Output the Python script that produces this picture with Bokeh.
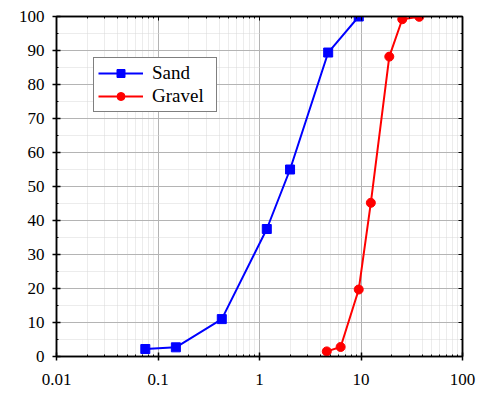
from bokeh.plotting import figure
from bokeh.models import (LogAxis, LinearAxis, LogTicker, SingleIntervalTicker,
                          Legend, LegendItem, Range1d)
from bokeh.embed import file_html
from bokeh.resources import INLINE

# Data
sand_size = [0.075, 0.15, 0.425, 1.18, 2.0, 4.75, 9.5]
sand_pass = [2.2, 2.7, 11.0, 37.5, 55.0, 89.4, 100.0]
gravel_size = [4.6, 6.3, 9.5, 12.5, 19.0, 25.5, 37.5]
gravel_pass = [1.5, 2.8, 19.7, 45.2, 88.2, 99.2, 99.9]

FONT = "'Liberation Serif', serif"

p = figure(x_axis_type="log", x_range=Range1d(0.01, 100), y_range=Range1d(0, 100),
           frame_width=406, frame_height=340,
           min_border_left=56, min_border_right=14, min_border_top=16, min_border_bottom=28,
           output_backend="svg", toolbar_location=None,
           background_fill_color="white", border_fill_color="white")

p.outline_line_color = "black"
p.outline_line_width = 1.5

xt = LogTicker(num_minor_ticks=10)
yt = SingleIntervalTicker(interval=10, num_minor_ticks=2)

xa = p.xaxis[0]
xa.ticker = xt
ya = p.yaxis[0]
ya.ticker = yt

for ax in (xa, ya):
    ax.axis_line_color = "black"
    ax.axis_line_width = 1.5
    ax.major_tick_line_color = "black"
    ax.major_tick_line_width = 1.5
    ax.minor_tick_line_color = "black"
    ax.major_tick_in = 4
    ax.major_tick_out = 4
    ax.minor_tick_in = 2
    ax.minor_tick_out = 0
    ax.major_label_text_font = FONT
    ax.major_label_text_font_size = "17px"
    ax.major_label_text_color = "black"
xa.major_label_standoff = 13
ya.major_label_standoff = 8
xa.major_label_overrides = {0.01: "0.01", 0.1: "0.1", 1: "1", 10: "10", 100: "100"}

ra = LinearAxis(ticker=yt)
ta = LogAxis(ticker=xt)
for ax in (ra, ta):
    ax.axis_line_color = "black"
    ax.axis_line_width = 1.5
    ax.major_tick_line_color = "black"
    ax.minor_tick_line_color = "black"
    ax.major_tick_in = 4
    ax.major_tick_out = 0
    ax.minor_tick_in = 2
    ax.minor_tick_out = 0
    ax.major_label_text_font_size = "1px"
    ax.major_label_text_color = None
    ax.major_label_standoff = 0
p.add_layout(ra, "right")
p.add_layout(ta, "above")

for g in (p.xgrid[0], p.ygrid[0]):
    g.grid_line_color = "#b4b4b4"
    g.grid_line_width = 1
    g.minor_grid_line_color = "#d8d8d8"
    g.minor_grid_line_dash = "1 1"
    g.minor_grid_line_width = 1
p.xgrid[0].ticker = xt
p.ygrid[0].ticker = yt

l1 = p.line(sand_size, sand_pass, line_color="#0000ff", line_width=2)
m1 = p.scatter(sand_size, sand_pass, marker="square", size=9, fill_color="#0000ff",
               line_color="#0000ff")
l2 = p.line(gravel_size, gravel_pass, line_color="#ff0000", line_width=2)
m2 = p.scatter(gravel_size, gravel_pass, marker="circle", size=9, fill_color="#ff0000",
               line_color="#ff0000")

legend = Legend(items=[LegendItem(label="Sand", renderers=[l1, m1]),
                       LegendItem(label="Gravel", renderers=[l2, m2])],
                location=(37, 244))
legend.border_line_color = "black"
legend.border_line_width = 1
legend.label_text_font = FONT
legend.label_text_font_size = "19px"
legend.label_text_color = "black"
legend.glyph_width = 45
legend.glyph_height = 20
legend.label_height = 20
legend.label_width = 60
legend.label_standoff = 9
legend.padding = 4
legend.spacing = 1
legend.margin = 0
legend.background_fill_alpha = 1
p.add_layout(legend, "center")

open("out.html", "w").write(file_html(p, INLINE))
